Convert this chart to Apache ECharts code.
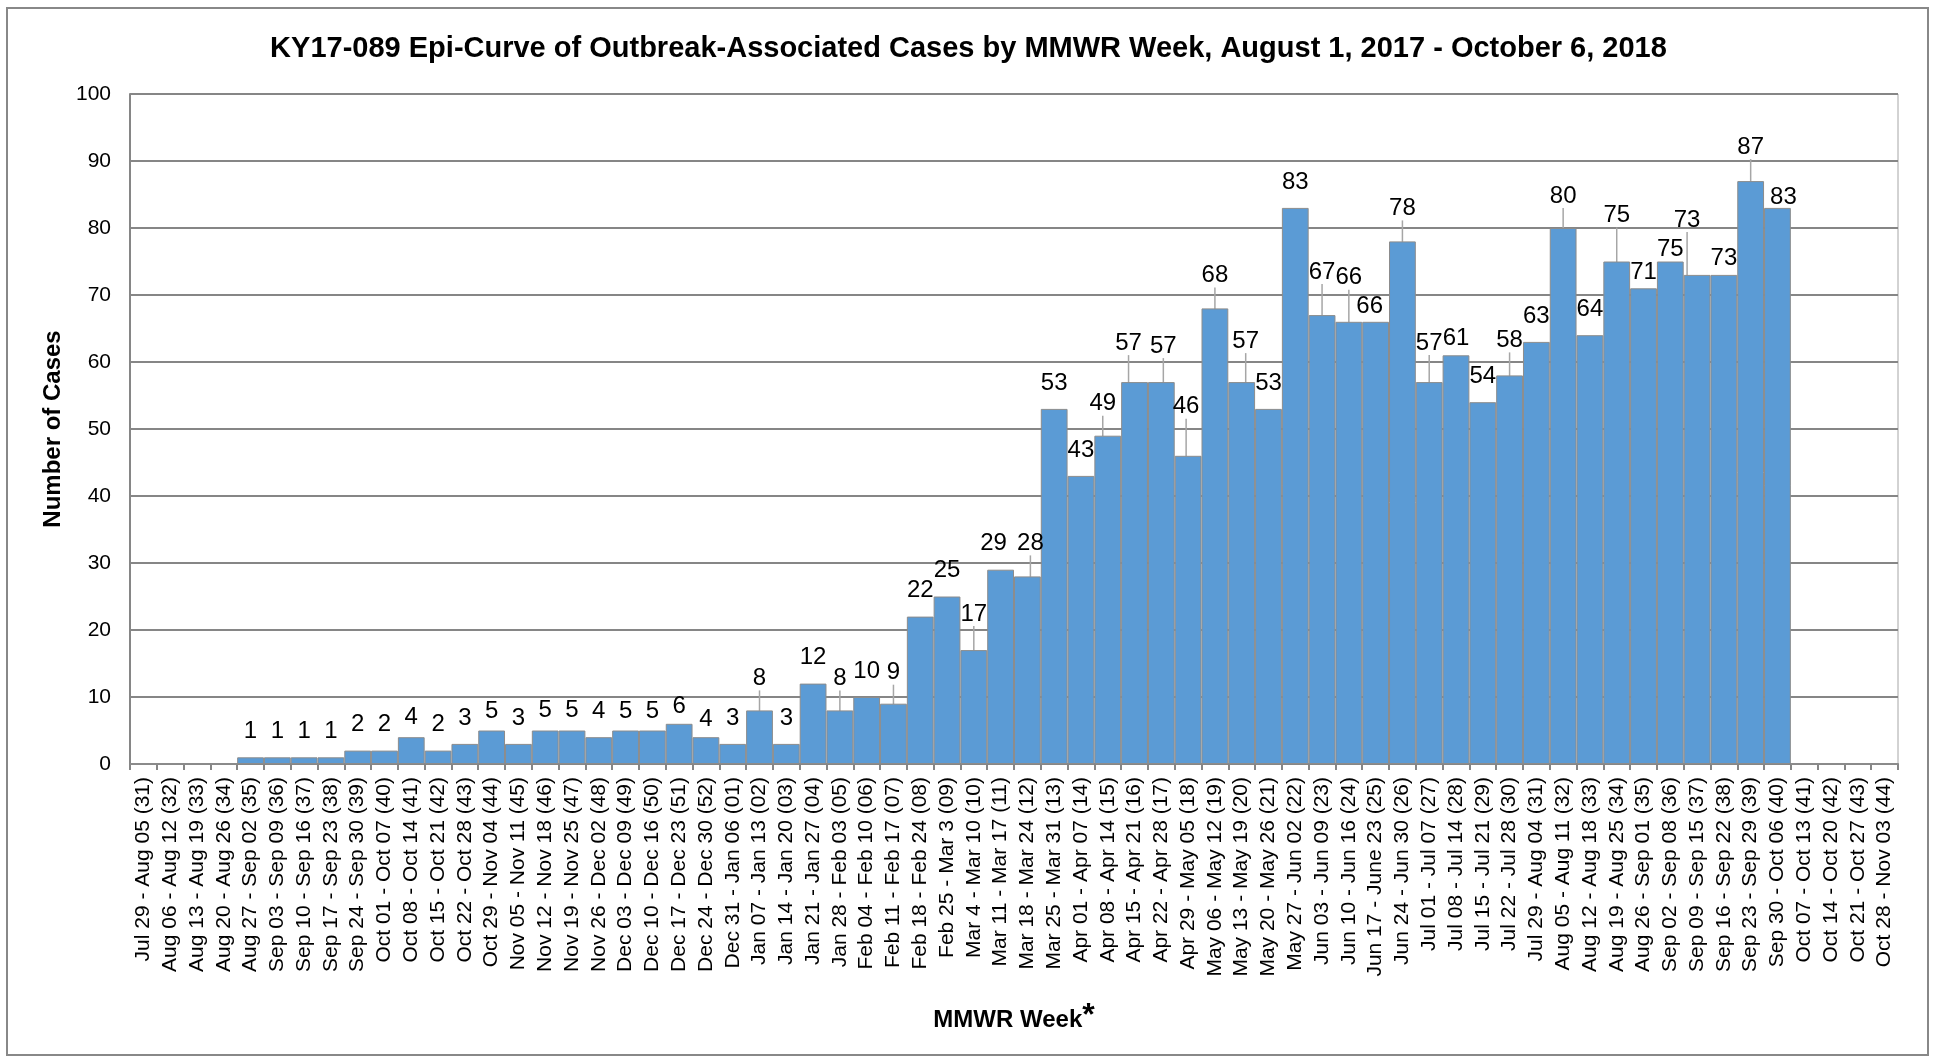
<!DOCTYPE html>
<html>
<head>
<meta charset="utf-8">
<title>KY17-089 Epi-Curve</title>
<script src="https://cdn.jsdelivr.net/npm/echarts@6/dist/echarts.min.js"></script>
<style>
  html, body { margin: 0; padding: 0; background: #fff; }
  #chart { width: 1937px; height: 1060px; }
</style>
</head>
<body>
<div id="chart"></div>
<script>
// MMWR weeks, Jul 2017 - Nov 2018
var weeks = [
  'Jul 29 - Aug 05 (31)', 'Aug 06 - Aug 12 (32)', 'Aug 13 - Aug 19 (33)', 'Aug 20 - Aug 26 (34)',
  'Aug 27 - Sep 02 (35)', 'Sep 03 - Sep 09 (36)', 'Sep 10 - Sep 16 (37)', 'Sep 17 - Sep 23 (38)',
  'Sep 24 - Sep 30 (39)', 'Oct 01 - Oct 07 (40)', 'Oct 08 - Oct 14 (41)', 'Oct 15 - Oct 21 (42)',
  'Oct 22 - Oct 28 (43)', 'Oct 29 - Nov 04 (44)', 'Nov 05 - Nov 11 (45)', 'Nov 12 - Nov 18 (46)',
  'Nov 19 - Nov 25 (47)', 'Nov 26 - Dec 02 (48)', 'Dec 03 - Dec 09 (49)', 'Dec 10 - Dec 16 (50)',
  'Dec 17 - Dec 23 (51)', 'Dec 24 - Dec 30 (52)', 'Dec 31 - Jan 06 (01)', 'Jan 07 - Jan 13 (02)',
  'Jan 14 - Jan 20 (03)', 'Jan 21 - Jan 27 (04)', 'Jan 28 - Feb 03 (05)', 'Feb 04 - Feb 10 (06)',
  'Feb 11 - Feb 17 (07)', 'Feb 18 - Feb 24 (08)', 'Feb 25 - Mar 3 (09)', 'Mar 4 - Mar 10 (10)',
  'Mar 11 - Mar 17 (11)', 'Mar 18 - Mar 24 (12)', 'Mar 25 - Mar 31 (13)', 'Apr 01 - Apr 07 (14)',
  'Apr 08 - Apr 14 (15)', 'Apr 15 - Apr 21 (16)', 'Apr 22 - Apr 28 (17)', 'Apr 29 - May 05 (18)',
  'May 06 - May 12 (19)', 'May 13 - May 19 (20)', 'May 20 - May 26 (21)', 'May 27 - Jun 02 (22)',
  'Jun 03 - Jun 09 (23)', 'Jun 10 - Jun 16 (24)', 'Jun 17 - June 23 (25)', 'Jun 24 - Jun 30 (26)',
  'Jul 01 - Jul 07 (27)', 'Jul 08 - Jul 14 (28)', 'Jul 15 - Jul 21 (29)', 'Jul 22 - Jul 28 (30)',
  'Jul 29 - Aug 04 (31)', 'Aug 05 - Aug 11 (32)', 'Aug 12 - Aug 18 (33)', 'Aug 19 - Aug 25 (34)',
  'Aug 26 - Sep 01 (35)', 'Sep 02 - Sep 08 (36)', 'Sep 09 - Sep 15 (37)', 'Sep 16 - Sep 22 (38)',
  'Sep 23 - Sep 29 (39)', 'Sep 30 - Oct 06 (40)', 'Oct 07 - Oct 13 (41)', 'Oct 14 - Oct 20 (42)',
  'Oct 21 - Oct 27 (43)', 'Oct 28 - Nov 03 (44)'
];

var cases = [
  0, 0, 0, 0, 1, 1, 1, 1, 2, 2, 4, 2, 3, 5, 3, 5, 5, 4, 5, 5, 6, 4,
  3, 8, 3, 12, 8, 10, 9, 22, 25, 17, 29, 28, 53, 43, 49, 57, 57, 46,
  68, 57, 53, 83, 67, 66, 66, 78, 57, 61, 54, 58, 63, 80, 64, 75, 71,
  75, 73, 73, 87, 83, 0, 0, 0, 0
];

var yTicks = [0, 10, 20, 30, 40, 50, 60, 70, 80, 90, 100];

// where Excel nudged a data label: bar index -> [dx, dy, leader line]
var labelNudge = {
  10: [0, 6], 13: [0, 7], 15: [0, 6], 16: [0, 6], 18: [0, 7], 19: [0, 7], 20: [0, 9], 21: [0, 8],
  23: [0, -6, true], 26: [0, -6, true], 28: [0, -5, true], 31: [0, -10, true],
  32: [-7, 0], 33: [3, -7, true],
  36: [-5, -6, true], 37: [-6, -13, true], 38: [2, -10, true], 39: [-2, -23, true],
  40: [0, -7, true], 41: [4, -15, true], 44: [0, -17, true], 45: [0, -18, true], 46: [-6, 11],
  47: [0, -7, true], 48: [0, -13, true], 49: [0, 9], 51: [0, -9, true], 53: [0, -6, true],
  55: [0, -20, true], 56: [0, 10], 57: [0, 14], 58: [-10, -29, true], 59: [0, 9],
  60: [0, -8, true], 61: [6, 15]
};

var font = '"Liberation Sans", Arial, sans-serif';
var gridGrey = '#868686';

var barData = cases.map(function (v, i) {
  var n = labelNudge[i];
  return { value: v, labelLine: { show: !!(n && n[2]) } };
});

var myChart = echarts.init(document.getElementById('chart'));

var option = {
  backgroundColor: '#fff',
  animation: false,
  title: {
    text: 'KY17-089 Epi-Curve of Outbreak-Associated Cases by MMWR Week, August 1, 2017 - October 6, 2018',
    left: 'center',
    top: 29,
    textStyle: { fontFamily: font, fontSize: 29, fontWeight: 'bold', color: '#000' }
  },
  graphic: [{
    type: 'rect',
    shape: { x: 7, y: 8, width: 1921, height: 1047 },
    style: { fill: 'none', stroke: '#888', lineWidth: 2 },
    silent: true
  }],
  grid: {
    left: 130, right: 39, top: 94, bottom: 296,
    show: true, borderColor: '#a6a6a6', borderWidth: 1
  },
  xAxis: {
    type: 'category',
    data: weeks,
    name: '{a|MMWR Week}{b|*}',
    nameLocation: 'middle',
    nameGap: 236,
    nameTextStyle: {
      rich: {
        a: { fontFamily: font, fontSize: 24, fontWeight: 'bold', color: '#000', verticalAlign: 'bottom' },
        b: { fontFamily: font, fontSize: 32, fontWeight: 'bold', color: '#000', verticalAlign: 'top' }
      }
    },
    axisLine: { lineStyle: { color: gridGrey, width: 2 } },
    axisTick: { show: true, interval: 0, length: 6, lineStyle: { color: gridGrey, width: 2 } },
    axisLabel: {
      interval: 0, rotate: 90, margin: 13,
      fontFamily: font, fontSize: 21, color: '#000'
    }
  },
  yAxis: {
    type: 'value',
    min: yTicks[0],
    max: yTicks[yTicks.length - 1],
    interval: yTicks[1] - yTicks[0],
    name: 'Number of Cases',
    nameLocation: 'middle',
    nameGap: 60,
    nameTextStyle: { fontFamily: font, fontSize: 24, fontWeight: 'bold', color: '#000' },
    axisLine: { show: true, lineStyle: { color: gridGrey, width: 2 } },
    axisTick: { show: false },
    axisLabel: { margin: 19, fontFamily: font, fontSize: 21, color: '#000' },
    splitLine: { show: true, lineStyle: { color: gridGrey, width: 2 } }
  },
  series: [{
    name: 'Cases',
    type: 'bar',
    data: barData,
    barCategoryGap: 0,
    itemStyle: { color: '#5b9bd5', borderColor: '#8c8c8c', borderWidth: 1 },
    label: {
      show: true,
      position: 'top',
      distance: 14,
      fontFamily: font,
      fontSize: 24,
      color: '#000',
      formatter: function (p) {
        return p.value ? p.value : '';
      }
    },
    labelLine: { show: false, lineStyle: { color: '#a6a6a6', width: 1.5 } },
    labelLayout: function (params) {
      var n = labelNudge[params.dataIndex];
      if (!n) return {};
      return { dx: n[0], dy: n[1] };
    }
  }]
};

myChart.setOption(option);
</script>
</body>
</html>
